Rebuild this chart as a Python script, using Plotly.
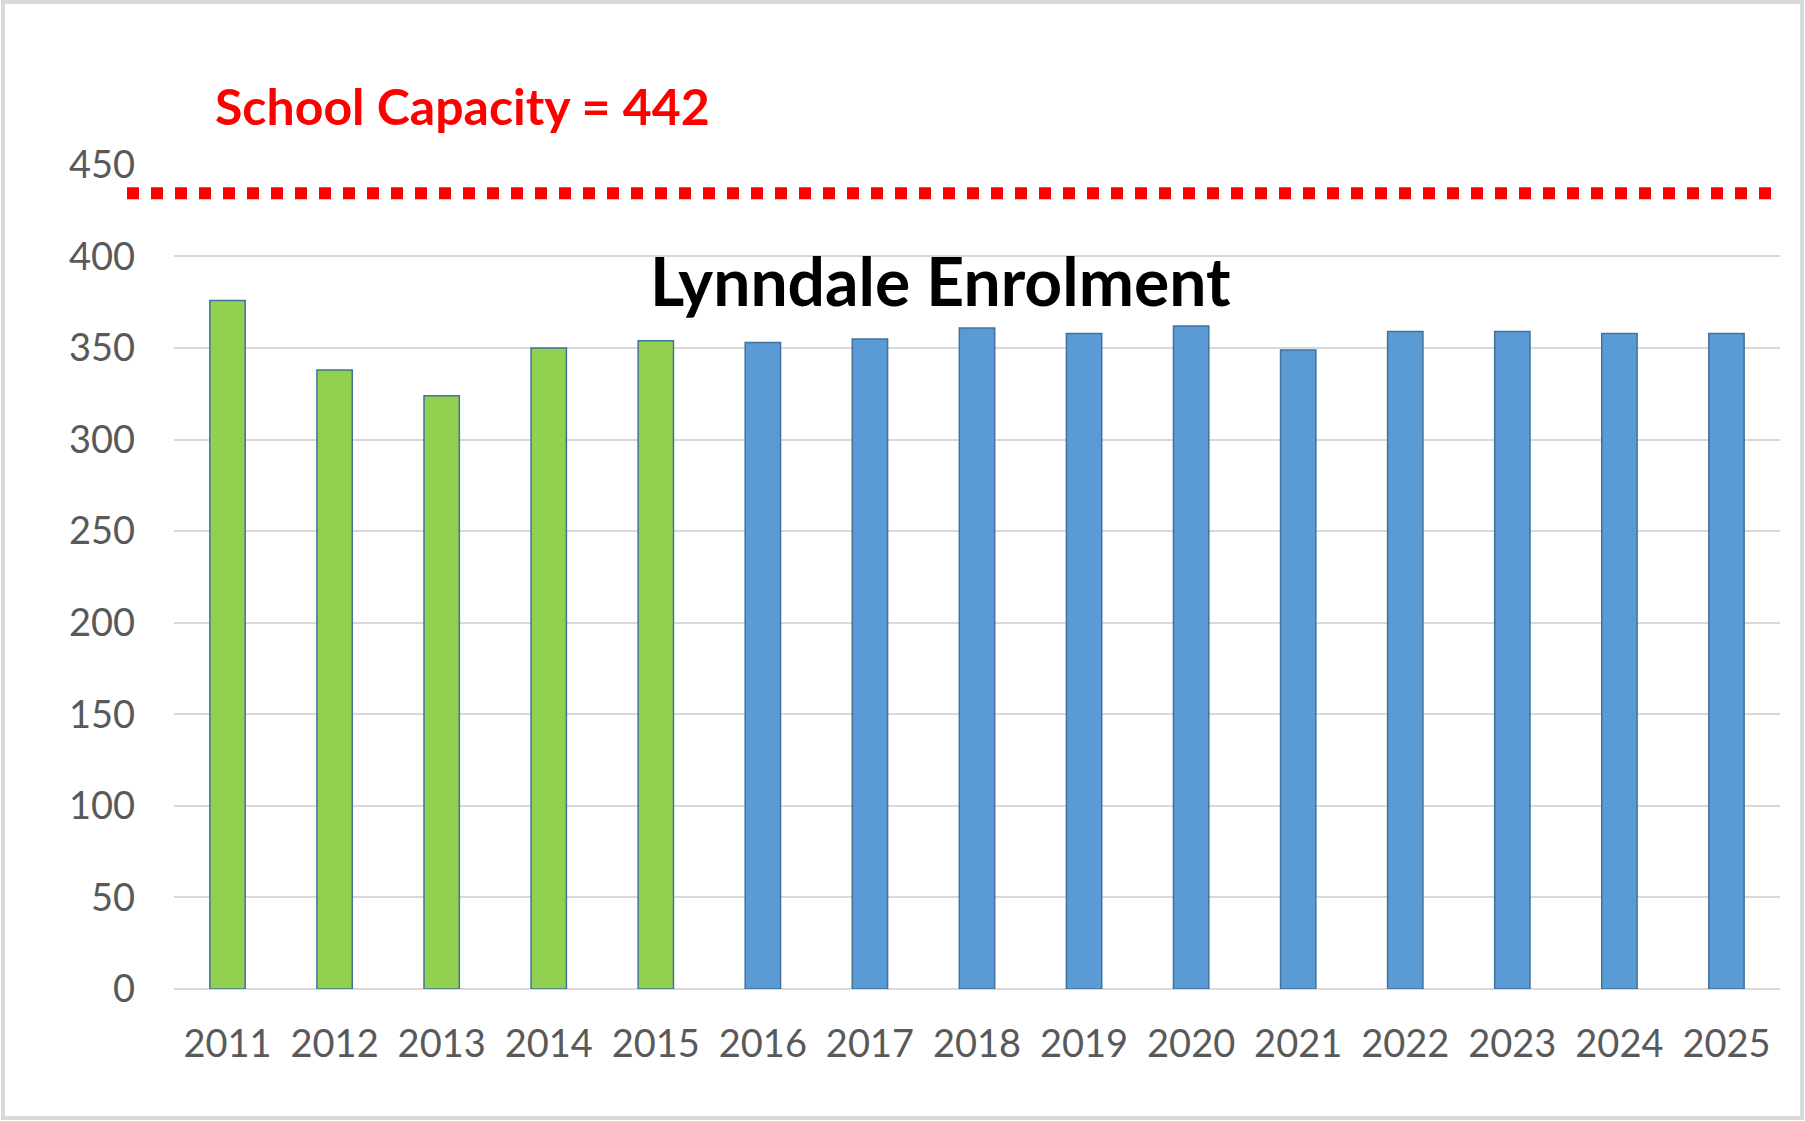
import plotly.graph_objects as go

# ---- data ----
actual_years = ["2011", "2012", "2013", "2014", "2015"]
actual_enrolment = [376, 338, 324, 350, 354]
projected_years = ["2016", "2017", "2018", "2019", "2020", "2021", "2022", "2023", "2024", "2025"]
projected_enrolment = [353, 355, 361, 358, 362, 349, 359, 359, 358, 358]
y_ticks = [0, 50, 100, 150, 200, 250, 300, 350, 400, 450]
capacity_label_value = 442
capacity_line_level = 434.5
chart_title = "Lynndale Enrolment"

W, H = 1805, 1121
L, R, T, B = 174, 25, 164, 132
pw = W - L - R
ph = H - T - B

def px_x(p):
    return (p - L) / pw

def px_y(p):
    return (H - B - p) / ph

fig = go.Figure()
fig.add_trace(go.Bar(
    x=actual_years, y=actual_enrolment, name="Actual",
    marker=dict(color="#92D050", line=dict(color="#41719C", width=1.5)),
    width=0.33,
))
fig.add_trace(go.Bar(
    x=projected_years, y=projected_enrolment, name="Projected",
    marker=dict(color="#5B9BD5", line=dict(color="#41719C", width=1.5)),
    width=0.33,
))

# capacity dotted line
fig.add_shape(type="line", xref="paper", yref="y",
              x0=px_x(127), x1=px_x(1782),
              y0=capacity_line_level, y1=capacity_line_level,
              line=dict(color="#FF0000", width=12, dash="12px,12px"))

# outer border
fig.add_shape(type="rect", xref="paper", yref="paper",
              x0=px_x(3), x1=px_x(1802), y0=px_y(1118), y1=px_y(2),
              line=dict(color="#D9D9D9", width=4), layer="below")

fig.add_annotation(text="<b>" + chart_title + "</b>", xref="paper", yref="paper",
                   x=px_x(940), y=px_y(280), xanchor="center", yanchor="middle",
                   showarrow=False, font=dict(family="Lato", size=66, color="#000000"))
fig.add_annotation(text="<b>School Capacity = " + str(capacity_label_value) + "</b>",
                   xref="paper", yref="paper",
                   x=px_x(462), y=px_y(106), xanchor="center", yanchor="middle",
                   showarrow=False, font=dict(family="Lato", size=50, color="#FF0000"))

fig.update_layout(
    width=W, height=H,
    margin=dict(l=L, r=R, t=T, b=B, pad=0),
    paper_bgcolor="#FFFFFF", plot_bgcolor="#FFFFFF",
    showlegend=False, barmode="overlay",
    font=dict(family="Lato", color="#595959", size=38),
)
fig.update_xaxes(type="category", showgrid=False, ticks="", showline=False,
                 tickfont=dict(size=38, color="#595959"), ticklabelstandoff=29)
fig.update_yaxes(range=[0, 450.5], tickvals=y_ticks, showgrid=True,
                 gridcolor="#D9D9D9", gridwidth=1.5, zeroline=True,
                 zerolinecolor="#D9D9D9", zerolinewidth=2, ticks="",
                 tickfont=dict(size=38, color="#595959"), ticklabelstandoff=38)

fig.write_html("out.html", config={"displayModeBar": False},
               post_script="document.body.style.margin='0';")
